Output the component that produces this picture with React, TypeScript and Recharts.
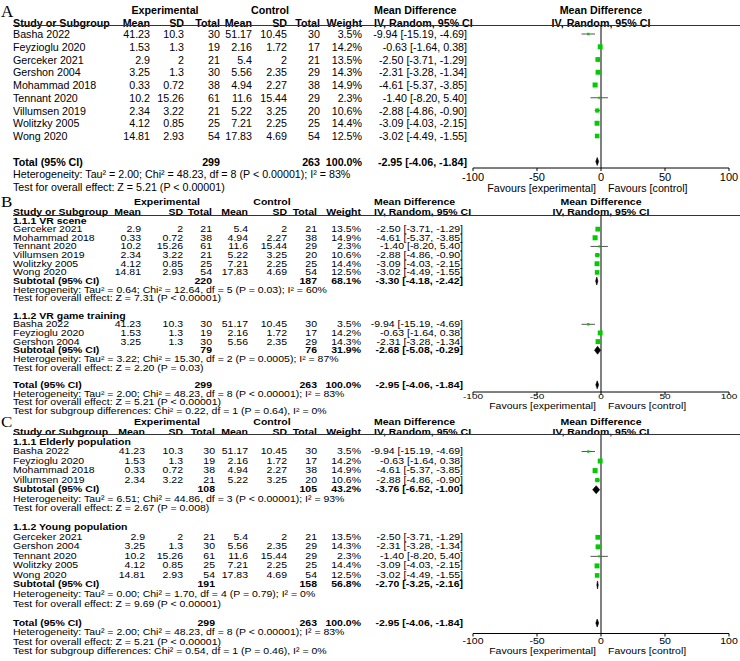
import React from "react";
import { ComposedChart, Scatter, ErrorBar, Area, XAxis, YAxis, ReferenceLine } from "recharts";

const studies = ["Basha 2022", "Feyzioglu 2020", "Gerceker 2021", "Gershon 2004", "Mohammad 2018", "Tennant 2020", "Villumsen 2019", "Wolitzky 2005", "Wong 2020"];
const expMean = [41.23, 1.53, 2.9, 3.25, 0.33, 10.2, 2.34, 4.12, 14.81];
const expSD = [10.3, 1.3, 2, 1.3, 0.72, 15.26, 3.22, 0.85, 2.93];
const expN = [30, 19, 21, 30, 38, 61, 21, 25, 54];
const ctlMean = [51.17, 2.16, 5.4, 5.56, 4.94, 11.6, 5.22, 7.21, 17.83];
const ctlSD = [10.45, 1.72, 2, 2.35, 2.27, 15.44, 3.25, 2.25, 4.69];
const ctlN = [30, 17, 21, 29, 38, 29, 20, 25, 54];
const weight = [3.5, 14.2, 13.5, 14.3, 14.9, 2.3, 10.6, 14.4, 12.5];
const md = [-9.94, -0.63, -2.5, -2.31, -4.61, -1.4, -2.88, -3.09, -3.02];
const mdLow = [-15.19, -1.64, -3.71, -3.28, -5.37, -8.2, -4.86, -4.03, -4.49];
const mdHigh = [-4.69, 0.38, -1.29, -1.34, -3.85, 5.4, -0.9, -2.15, -1.55];

// overall pooled result
const total = { expN: 299, ctlN: 263, w: 100, md: -2.95, lo: -4.06, hi: -1.84 };
const totalNotes = [
  "Heterogeneity: Tau² = 2.00; Chi² = 48.23, df = 8 (P < 0.00001); I² = 83%",
  "Test for overall effect: Z = 5.21 (P < 0.00001)",
];

// B: by intervention type
const groupNamesB = ["1.1.1 VR scene", "1.1.2 VR game training"];
const groupMembersB = [
  ["Gerceker 2021", "Mohammad 2018", "Tennant 2020", "Villumsen 2019", "Wolitzky 2005", "Wong 2020"],
  ["Basha 2022", "Feyzioglu 2020", "Gershon 2004"],
];
const subExpNB = [220, 79];
const subCtlNB = [187, 76];
const subWeightB = [68.1, 31.9];
const subMdB = [-3.3, -2.68];
const subLoB = [-4.18, -5.08];
const subHiB = [-2.42, -0.29];
const subNotesB = [
  ["Heterogeneity: Tau² = 0.64; Chi² = 12.64, df = 5 (P = 0.03); I² = 60%", "Test for overall effect: Z = 7.31 (P < 0.00001)"],
  ["Heterogeneity: Tau² = 3.22; Chi² = 15.30, df = 2 (P = 0.0005); I² = 87%", "Test for overall effect: Z = 2.20 (P = 0.03)"],
];
const diffNoteB = "Test for subgroup differences: Chi² = 0.22, df = 1 (P = 0.64), I² = 0%";

// C: by population
const groupNamesC = ["1.1.1 Elderly population", "1.1.2 Young population"];
const groupMembersC = [
  ["Basha 2022", "Feyzioglu 2020", "Mohammad 2018", "Villumsen 2019"],
  ["Gerceker 2021", "Gershon 2004", "Tennant 2020", "Wolitzky 2005", "Wong 2020"],
];
const subExpNC = [108, 191];
const subCtlNC = [105, 158];
const subWeightC = [43.2, 56.8];
const subMdC = [-3.76, -2.7];
const subLoC = [-6.52, -3.25];
const subHiC = [-1.0, -2.16];
const subNotesC = [
  ["Heterogeneity: Tau² = 6.51; Chi² = 44.86, df = 3 (P < 0.00001); I² = 93%", "Test for overall effect: Z = 2.67 (P = 0.008)"],
  ["Heterogeneity: Tau² = 0.00; Chi² = 1.70, df = 4 (P = 0.79); I² = 0%", "Test for overall effect: Z = 9.69 (P < 0.00001)"],
];
const diffNoteC = "Test for subgroup differences: Chi² = 0.54, df = 1 (P = 0.46), I² = 0%";

const xTicks = [-100, -50, 0, 50, 100];

const W = 740;
const FONT = '"Liberation Sans", Arial, sans-serif';
const CHART_LEFT = 430;

function buildPlain() {
  const lines: any[] = studies.map((_, i) => ({ kind: "study", row: i, i }));
  lines.push({ kind: "sum", row: 10, label: "Total (95% CI)", ...total });
  lines.push({ kind: "note", row: 11, text: totalNotes[0] });
  lines.push({ kind: "note", row: 12, text: totalNotes[1] });
  return lines;
}

function buildGrouped(names, members, sExp, sCtl, sW, sMd, sLo, sHi, notes, diffNote) {
  const lines: any[] = [];
  let row = 0;
  names.forEach((name, g) => {
    lines.push({ kind: "label", row: row++, text: name });
    members[g].forEach((s) => lines.push({ kind: "study", row: row++, i: studies.indexOf(s) }));
    lines.push({ kind: "sum", row: row++, label: "Subtotal (95% CI)", expN: sExp[g], ctlN: sCtl[g], w: sW[g], md: sMd[g], lo: sLo[g], hi: sHi[g] });
    lines.push({ kind: "note", row: row++, text: notes[g][0] });
    lines.push({ kind: "note", row: row++, text: notes[g][1] });
    row++;
  });
  lines.push({ kind: "sum", row: row++, label: "Total (95% CI)", ...total });
  lines.push({ kind: "note", row: row++, text: totalNotes[0] });
  lines.push({ kind: "note", row: row++, text: totalNotes[1] });
  lines.push({ kind: "note", row: row++, text: diffNote });
  return lines;
}

const panels = [
  {
    letter: "A", letterY: 11.5, row0: 34, pitch: 12.75, sy: 1, font: 10.7, expY: 10, headY: 22.5, rule: 25, axisY: 168,
    tickDy: 6, tickFont: 11, favY: 188, cols: [150, 184, 220, 252, 287, 320, 362], mdX: 467, expC: 165, ctlC: 270,
    lines: buildPlain(),
  },
  {
    letter: "B", letterY: 203, row0: 220.5, pitch: 8.65, sy: 0.8, font: 10.5, expY: 202, headY: 211.5, rule: 215, axisY: 392,
    tickDy: 1.5, tickFont: 10, favY: 406, cols: [141, 183, 212, 248, 287, 317, 361], mdX: 463, expC: 167, ctlC: 272,
    lines: buildGrouped(groupNamesB, groupMembersB, subExpNB, subCtlNB, subWeightB, subMdB, subLoB, subHiB, subNotesB, diffNoteB),
  },
  {
    letter: "C", letterY: 423, row0: 441.5, pitch: 9.53, sy: 0.85, font: 10.5, expY: 422, headY: 431.5, rule: 434.5, axisY: 633,
    tickDy: 4.5, tickFont: 10.5, favY: 651, cols: [145, 183, 215, 248, 287, 317, 361], mdX: 463, expC: 167, ctlC: 272,
    lines: buildGrouped(groupNamesC, groupMembersC, subExpNC, subCtlNC, subWeightC, subMdC, subLoC, subHiC, subNotesC, diffNoteC),
  },
];

function T({ x, y, sy = 1, anchor = "start", bold = false, size = 10.5, family = FONT, lh = 1, children }: any) {
  const style: any = {
    position: "absolute",
    top: y,
    whiteSpace: "nowrap",
    fontFamily: family,
    fontSize: size,
    fontWeight: bold ? 700 : 400,
    lineHeight: lh,
    color: "#000",
  };
  if (anchor === "start") {
    style.left = x;
    style.transform = `translateY(-50%) scaleY(${sy})`;
  } else if (anchor === "end") {
    style.right = W - x;
    style.transform = `translateY(-50%) scaleY(${sy})`;
  } else {
    style.left = x;
    style.transform = `translate(-50%, -50%) scaleY(${sy})`;
  }
  return <div style={style}>{children}</div>;
}

const fmtMd = (m, lo, hi) => `${m.toFixed(2)} [${lo.toFixed(2)}, ${hi.toFixed(2)}]`;

function Square(props: any) {
  const { cx, cy, payload } = props;
  if (cx == null || cy == null) return <g />;
  const s = Math.max(2, 1.3 * Math.sqrt(payload.w));
  return <rect x={cx - s / 2} y={cy - s / 2} width={s} height={s} fill="#00cc00" />;
}

function Panel({ p }: any) {
  const yAt = (row) => p.row0 + row * p.pitch;
  const studyLines = p.lines.filter((l) => l.kind === "study");
  const sumLines = p.lines.filter((l) => l.kind === "sum");
  const points = studyLines.map((l) => ({
    x: md[l.i],
    y: l.row,
    w: weight[l.i],
    err: [md[l.i] - mdLow[l.i], mdHigh[l.i] - md[l.i]],
  }));
  const half = 4 / p.pitch;
  const diamonds = sumLines.map((l) => [
    { x: l.lo, r: [l.row, l.row] },
    { x: l.md, r: [l.row - half, l.row + half] },
    { x: l.hi, r: [l.row, l.row] },
  ]);
  const plotH = p.axisY - p.rule;
  const chartH = plotH + 24;
  const yDomain = [(p.rule - p.row0) / p.pitch, (p.axisY - p.row0) / p.pitch];
  const c = p.cols;
  const t = (x, y, text, opts: any = {}) => (
    <T x={x} y={y} sy={p.sy} size={p.font} {...opts}>{text}</T>
  );

  const AxisTick = (tp: any) => (
    <text
      transform={`translate(${tp.x},${tp.y + p.tickDy}) scale(1,${p.sy})`}
      textAnchor="middle"
      dominantBaseline="central"
      fontSize={p.tickFont}
      fontFamily={FONT}
      fill="#000"
    >
      {tp.payload.value}
    </text>
  );

  return (
    <>
      <T x={1} y={p.letterY} sy={p.sy} size={17} lh={0.7} family='"Liberation Serif", "Times New Roman", serif'>{p.letter}</T>
      {t(p.expC, p.expY, "Experimental", { anchor: "middle", bold: true })}
      {t(p.ctlC, p.expY, "Control", { anchor: "middle", bold: true })}
      {t(374, p.expY, "Mean Difference", { bold: true })}
      {t(601, p.expY, "Mean Difference", { anchor: "middle", bold: true })}
      {t(13, p.headY, "Study or Subgroup", { bold: true })}
      {t(c[0], p.headY, "Mean", { anchor: "end", bold: true })}
      {t(c[1], p.headY, "SD", { anchor: "end", bold: true })}
      {t(c[2], p.headY, "Total", { anchor: "end", bold: true })}
      {t(c[3], p.headY, "Mean", { anchor: "end", bold: true })}
      {t(c[4], p.headY, "SD", { anchor: "end", bold: true })}
      {t(c[5], p.headY, "Total", { anchor: "end", bold: true })}
      {t(c[6], p.headY, "Weight", { anchor: "end", bold: true })}
      {t(374, p.headY, "IV, Random, 95% CI", { bold: true })}
      {t(601, p.headY, "IV, Random, 95% CI", { anchor: "middle", bold: true })}
      <div style={{ position: "absolute", left: 13, top: p.rule - 0.5, width: W - 13, height: 1, background: "#333" }} />
      {p.lines.map((l, k) => {
        const y = yAt(l.row);
        if (l.kind === "label" || l.kind === "note") {
          return <React.Fragment key={k}>{t(13, y, l.text, { bold: l.kind === "label" })}</React.Fragment>;
        }
        if (l.kind === "study") {
          const i = l.i;
          return (
            <React.Fragment key={k}>
              {t(13, y, studies[i])}
              {t(c[0], y, String(expMean[i]), { anchor: "end" })}
              {t(c[1], y, String(expSD[i]), { anchor: "end" })}
              {t(c[2], y, String(expN[i]), { anchor: "end" })}
              {t(c[3], y, String(ctlMean[i]), { anchor: "end" })}
              {t(c[4], y, String(ctlSD[i]), { anchor: "end" })}
              {t(c[5], y, String(ctlN[i]), { anchor: "end" })}
              {t(c[6], y, weight[i].toFixed(1) + "%", { anchor: "end" })}
              {t(p.mdX, y, fmtMd(md[i], mdLow[i], mdHigh[i]), { anchor: "end" })}
            </React.Fragment>
          );
        }
        return (
          <React.Fragment key={k}>
            {t(13, y, l.label, { bold: true })}
            {t(c[2], y, String(l.expN), { anchor: "end", bold: true })}
            {t(c[5], y, String(l.ctlN), { anchor: "end", bold: true })}
            {t(c[6], y, l.w.toFixed(1) + "%", { anchor: "end", bold: true })}
            {t(p.mdX, y, fmtMd(l.md, l.lo, l.hi), { anchor: "end", bold: true })}
          </React.Fragment>
        );
      })}
      {t(596, p.favY, "Favours [experimental]", { anchor: "end" })}
      {t(608, p.favY, "Favours [control]")}
      <div style={{ position: "absolute", left: CHART_LEFT, top: p.rule, width: W - CHART_LEFT, height: chartH }}>
        <ComposedChart width={W - CHART_LEFT} height={chartH} margin={{ top: 0, right: 11, bottom: 0, left: 473 - CHART_LEFT }}>
          <XAxis
            type="number"
            dataKey="x"
            domain={[-100, 100]}
            ticks={xTicks}
            interval={0}
            allowDataOverflow
            height={24}
            stroke="#000"
            tickSize={3}
            tickMargin={0}
            tick={AxisTick}
          />
          <YAxis type="number" dataKey="y" domain={yDomain} reversed hide allowDataOverflow />
          <ReferenceLine x={0} stroke="#000" strokeWidth={1} />
          <Scatter data={points} isAnimationActive={false} shape={() => <g />}>
            <ErrorBar dataKey="err" direction="x" width={0} stroke="#555" strokeWidth={1} isAnimationActive={false} />
          </Scatter>
          <Scatter data={points} isAnimationActive={false} shape={Square} />
          {diamonds.map((d, k) => (
            <Area
              key={k}
              data={d}
              dataKey="r"
              type="linear"
              fill="#000"
              fillOpacity={1}
              stroke="#000"
              strokeWidth={0.6}
              dot={false}
              activeDot={false}
              isAnimationActive={false}
            />
          ))}
        </ComposedChart>
      </div>
    </>
  );
}

export default function App() {
  return (
    <div style={{ position: "absolute", left: 0, top: 0, width: W, height: 661, background: "#fff", overflow: "hidden" }}>
      {panels.map((p) => (
        <Panel key={p.letter} p={p} />
      ))}
    </div>
  );
}
